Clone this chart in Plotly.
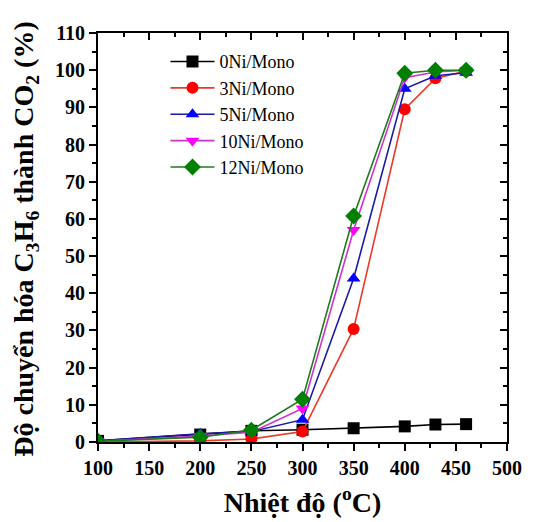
import plotly.graph_objects as go

temps = [100, 200, 250, 300, 350, 400, 430, 460]
ni0 = [0.3, 2.0, 3.0, 3.3, 3.7, 4.2, 4.7, 4.8]
ni3 = [0.0, 0.3, 0.8, 2.8, 30.4, 89.5, 97.8, 99.8]
ni5 = [0.3, 2.2, 2.8, 6.0, 44.0, 95.0, 98.5, 99.3]
ni10 = [0.2, 1.6, 2.6, 9.0, 57.0, 98.0, 99.5, 100.0]
ni12 = [0.2, 1.3, 3.2, 11.5, 60.8, 99.2, 100.0, 100.0]

names = ["0Ni/Mono", "3Ni/Mono", "5Ni/Mono", "10Ni/Mono", "12Ni/Mono"]
series = [ni0, ni3, ni5, ni10, ni12]
colors = ["#000000", "#ff0000", "#0000ff", "#ff00ff", "#008000"]
symbols = ["square", "circle", "triangle-up", "triangle-down", "diamond"]
line_colors = ["#000000", "#e83a2a", "#1a1aa8", "#cc33cc", "#1f7a1f"]
x_ticks = [100, 150, 200, 250, 300, 350, 400, 450, 500]
y_title = "Độ chuyển hóa C<sub>3</sub>H<sub>6</sub> thành CO<sub>2</sub> (%)"
x_title = "Nhiệt độ (<sup>o</sup>C)"

fig = go.Figure()
for n, s, c, lc, sym in zip(names, series, colors, line_colors, symbols):
    fig.add_trace(go.Scatter(
        x=temps, y=s, name=n, mode="lines+markers",
        line=dict(color=lc, width=1.6),
        marker=dict(color=c, symbol=sym, size=12 if sym != "diamond" else 13,
                    line=dict(width=0)),
    ))

tick_font = dict(family="Liberation Serif", size=20, color="black", weight="bold")
fig.update_layout(
    width=541, height=522,
    margin=dict(l=90, r=42, t=25, b=88, autoexpand=False),
    paper_bgcolor="white", plot_bgcolor="white",
    showlegend=True,
    legend=dict(x=0.165, y=0.975, xanchor="left", yanchor="top",
                font=dict(family="Liberation Serif", size=18, color="black"),
                bgcolor="rgba(0,0,0,0)", tracegroupgap=0, itemwidth=44),
    xaxis=dict(range=[100, 500], tickvals=x_ticks, automargin=False,
               ticks="outside", ticklen=7, tickwidth=1.5, tickcolor="black",
               minor=dict(dtick=25, tick0=100, ticks="outside", ticklen=4, tickwidth=1.5, tickcolor="black"),
               showline=True, linecolor="black", linewidth=1.8, mirror=True,
               showgrid=False, zeroline=False, tickfont=tick_font,
               title=dict(text=x_title, standoff=14,
                          font=dict(family="Liberation Serif", size=28, color="black", weight="bold"))),
    yaxis=dict(range=[0, 110], dtick=10, tick0=0, automargin=False,
               ticks="outside", ticklen=7, tickwidth=1.5, tickcolor="black",
               minor=dict(dtick=5, tick0=0, ticks="outside", ticklen=4, tickwidth=1.5, tickcolor="black"),
               showline=True, linecolor="black", linewidth=1.8, mirror=True,
               showgrid=False, zeroline=False, tickfont=tick_font),
    xaxis2=dict(overlaying="x", side="top", matches="x", range=[100, 500],
                tickvals=x_ticks, automargin=False,
                ticks="inside", ticklen=7, tickwidth=1.5, tickcolor="black",
                minor=dict(dtick=25, tick0=100, ticks="inside", ticklen=4, tickwidth=1.5, tickcolor="black"),
                showticklabels=False, showgrid=False, zeroline=False, showline=False),
    yaxis2=dict(overlaying="y", side="right", matches="y", range=[0, 110], dtick=10, tick0=0,
                automargin=False,
                ticks="inside", ticklen=7, tickwidth=1.5, tickcolor="black",
                minor=dict(dtick=5, tick0=0, ticks="inside", ticklen=4, tickwidth=1.5, tickcolor="black"),
                showticklabels=False, showgrid=False, zeroline=False, showline=False),
    annotations=[dict(text=y_title, textangle=-90, xref="paper", yref="paper",
                      x=-0.178, y=0.495, xanchor="center", yanchor="middle", showarrow=False,
                      font=dict(family="Liberation Serif", size=28, color="black", weight="bold"))],
)
fig.add_trace(go.Scatter(x=[100], y=[0], xaxis="x2", yaxis="y2", mode="markers",
                         marker=dict(opacity=0), showlegend=False, hoverinfo="skip"))

fig.write_html("out.html")
